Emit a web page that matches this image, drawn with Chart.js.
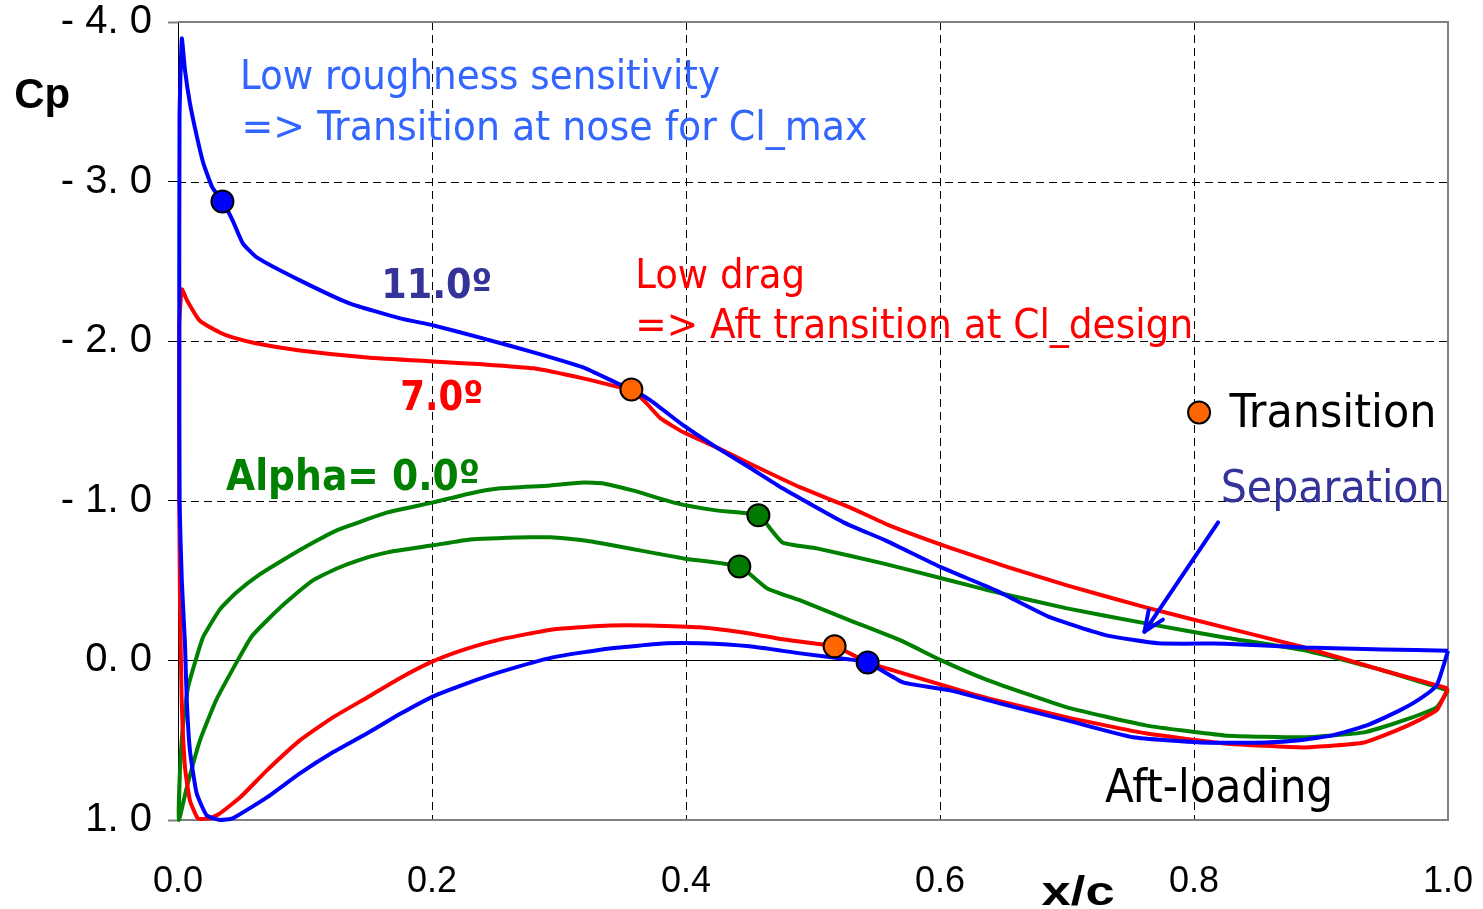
<!DOCTYPE html>
<html>
<head>
<meta charset="utf-8">
<title>Cp distribution</title>
<script src="https://cdn.jsdelivr.net/npm/chart.js@4.4.0/dist/chart.umd.min.js"></script>
<style>
  html, body { margin: 0; padding: 0; background: #fff; }
  #wrap { width: 1483px; height: 909px; position: relative; }
</style>
</head>
<body>
<div id="wrap"><canvas id="cpChart"></canvas></div>
<script>
// Cp along the chord, each curve walked as one loop: upper surface TE -> LE, then lower surface LE -> TE

// alpha = 11.0
const x11 = [1.0, 0.949, 0.887, 0.824, 0.772, 0.731, 0.687, 0.644, 0.601, 0.557, 0.524, 0.476, 0.450, 0.424, 0.398, 0.372, 0.357, 0.346, 0.319, 0.280, 0.240, 0.201, 0.175, 0.135, 0.096, 0.062, 0.051, 0.043, 0.035, 0.027, 0.020, 0.015, 0.0094, 0.0055, 0.003,
  0.0012, 0.001, 0.0012, 0.003, 0.0055, 0.0069, 0.0094, 0.0147, 0.0226, 0.033, 0.043, 0.070, 0.096, 0.122, 0.149, 0.175, 0.201, 0.227, 0.254, 0.295, 0.340, 0.385, 0.411, 0.450, 0.490, 0.529, 0.543, 0.571, 0.608, 0.647, 0.700, 0.752, 0.805, 0.857, 0.883, 0.909, 0.936, 0.962, 0.976, 0.991, 1.0];
const cp11 = [-0.06, -0.069, -0.081, -0.105, -0.107, -0.157, -0.269, -0.439, -0.583, -0.752, -0.865, -1.078, -1.209, -1.335, -1.472, -1.629, -1.698, -1.736, -1.836, -1.930, -2.018, -2.099, -2.143, -2.237, -2.381, -2.525, -2.613, -2.757, -2.876, -2.964, -3.114, -3.277, -3.490, -3.697, -3.897,
  -3.4, -2.0, -1.0, -0.5, -0.1, 0.25, 0.564, 0.833, 0.971, 1.0, 0.99, 0.858, 0.708, 0.576, 0.457, 0.335, 0.225, 0.145, 0.072, -0.019, -0.075, -0.107, -0.107, -0.088, -0.044, -0.006, 0.0125, 0.138, 0.188, 0.269, 0.376, 0.482, 0.514, 0.514, 0.501, 0.470, 0.407, 0.313, 0.251, 0.157, -0.06];

// alpha = 7.0
const x7 = [1.0, 0.949, 0.887, 0.824, 0.762, 0.700, 0.654, 0.607, 0.560, 0.529, 0.490, 0.450, 0.424, 0.398, 0.380, 0.369, 0.357, 0.348, 0.319, 0.280, 0.240, 0.201, 0.149, 0.096, 0.062, 0.043, 0.033, 0.017, 0.0071, 0.003,
  0.001, 0.001, 0.0016, 0.0029, 0.0055, 0.0094, 0.0157, 0.025, 0.033, 0.049, 0.070, 0.096, 0.122, 0.149, 0.175, 0.201, 0.227, 0.254, 0.295, 0.340, 0.370, 0.411, 0.450, 0.476, 0.517, 0.529, 0.545, 0.571, 0.608, 0.638, 0.700, 0.762, 0.824, 0.887, 0.934, 0.965, 0.991, 1.0];
const cp7 = [0.175, 0.063, -0.081, -0.207, -0.332, -0.470, -0.583, -0.708, -0.846, -0.959, -1.084, -1.234, -1.335, -1.429, -1.516, -1.610, -1.698, -1.711, -1.767, -1.830, -1.855, -1.873, -1.898, -1.942, -1.986, -2.024, -2.055, -2.130, -2.256, -2.325,
  -2.1, -1.0, -0.376, 0.25, 0.670, 0.877, 0.990, 0.99, 0.959, 0.858, 0.689, 0.501, 0.357, 0.232, 0.110, 0.005, -0.072, -0.132, -0.194, -0.219, -0.219, -0.207, -0.169, -0.132, -0.088, -0.044, 0.019, 0.081, 0.169, 0.238, 0.357, 0.457, 0.520, 0.545, 0.514, 0.420, 0.313, 0.175];

// alpha = 0.0
const x0 = [1.0, 0.949, 0.887, 0.824, 0.762, 0.700, 0.638, 0.608, 0.555, 0.503, 0.476, 0.457, 0.424, 0.393, 0.358, 0.335, 0.319, 0.293, 0.254, 0.230, 0.201, 0.165, 0.125, 0.104, 0.086, 0.0646, 0.046, 0.033, 0.020, 0.015, 0.0079, 0.004, 0.0015, 0.0008,
  0.0069, 0.0173, 0.030, 0.047, 0.058, 0.070, 0.086, 0.106, 0.125, 0.145, 0.165, 0.201, 0.230, 0.277, 0.293, 0.324, 0.372, 0.398, 0.442, 0.464, 0.490, 0.529, 0.569, 0.601, 0.638, 0.700, 0.762, 0.824, 0.887, 0.934, 0.965, 0.991, 1.0];
const cp0 = [0.188, 0.063, -0.063, -0.144, -0.232, -0.326, -0.439, -0.501, -0.608, -0.702, -0.739, -0.909, -0.940, -0.984, -1.065, -1.109, -1.115, -1.096, -1.078, -1.046, -0.990, -0.927, -0.815, -0.728, -0.645, -0.54, -0.425, -0.32, -0.15, -0.03, 0.169, 0.4, 0.7, 1.0,
  0.796, 0.501, 0.25, 0.0, -0.15, -0.25, -0.37, -0.50, -0.576, -0.635, -0.677, -0.721, -0.758, -0.771, -0.771, -0.746, -0.677, -0.639, -0.589, -0.451, -0.376, -0.251, -0.125, 0.0, 0.125, 0.294, 0.407, 0.470, 0.482, 0.451, 0.376, 0.294, 0.188];

// transition points (last one is the key symbol)
const transX = [0.357, 0.517, 0.804];
const transCp = [-1.698, -0.088, -1.553];
const blueDotX = [0.035, 0.543];
const blueDotCp = [-2.876, 0.0125];
const greenDotX = [0.457, 0.442];
const greenDotCp = [-0.909, -0.589];

const xTicks = [0, 0.2, 0.4, 0.6, 0.8, 1.0];
const cpTicks = [-4, -3, -2, -1, 0, 1];

const pts = (xs, ys) => xs.map((x, i) => ({ x: x, y: ys[i] }));

const condensed = '"DejaVu Sans Condensed", "DejaVu Sans", sans-serif';
const notes = [
  { text: 'Low roughness sensitivity', x: 0.0488, cp: -3.578, w: 480, font: '40px ' + condensed, color: '#3366ff' },
  { text: '=> Transition at nose for Cl_max', x: 0.050, cp: -3.258, w: 626, font: '40px ' + condensed, color: '#3366ff' },
  { text: '11.0º', x: 0.160, cp: -2.268, w: 111, font: 'bold 40px ' + condensed, color: '#333399' },
  { text: 'Low drag', x: 0.360, cp: -2.331, w: 170, font: '40px ' + condensed, color: '#ff0000' },
  { text: '=> Aft transition at Cl_design', x: 0.360, cp: -2.018, w: 558, font: '40px ' + condensed, color: '#ff0000' },
  { text: '7.0º', x: 0.175, cp: -1.566, w: 83, font: 'bold 40px ' + condensed, color: '#ff0000' },
  { text: 'Alpha= 0.0º', x: 0.0378, cp: -1.065, w: 254, font: 'bold 42px ' + condensed, color: '#008000' },
  { text: 'Transition', x: 0.828, cp: -1.460, w: 207, font: '46px ' + condensed, color: '#000000' },
  { text: 'Separation', x: 0.821, cp: -0.990, w: 224, font: '44px ' + condensed, color: '#333399' },
  { text: 'Aft-loading', x: 0.730, cp: 0.890, w: 228, font: '46px ' + condensed, color: '#000000' },
  { text: 'Cp', x: -0.129, cp: -3.459, w: 56, font: 'bold 42px "Liberation Sans", Arial, sans-serif', color: '#000000' },
  { text: 'x/c', x: 0.680, cp: 1.535, w: 73, font: 'bold 40px "Liberation Sans", Arial, sans-serif', color: '#000000' }
];

// separation arrow, tail -> head, in chart units
const sepArrow = { from: [0.819, -0.865], to: [0.761, -0.18] };

function seg(ctx, x1, y1, x2, y2) {
  ctx.beginPath();
  ctx.moveTo(x1, y1);
  ctx.lineTo(x2, y2);
  ctx.stroke();
}

// dashed grid, zero line and grey frame under the curves
const framePlugin = {
  id: 'frame',
  beforeDatasetsDraw(chart) {
    const { ctx, chartArea: a, scales } = chart;
    const sx = scales.x, sy = scales.y;
    ctx.save();
    ctx.strokeStyle = '#000';
    ctx.lineWidth = 1;
    ctx.setLineDash([8, 5]);
    xTicks.slice(1, -1).forEach(v => {
      const px = Math.round(sx.getPixelForValue(v)) + 0.5;
      seg(ctx, px, a.top, px, a.bottom);
    });
    cpTicks.filter(v => v !== 0 && v !== -4 && v !== 1).forEach(v => {
      const py = Math.round(sy.getPixelForValue(v)) + 0.5;
      seg(ctx, a.left, py, a.right, py);
    });
    ctx.setLineDash([]);
    const zy = Math.round(sy.getPixelForValue(0)) + 0.5;
    seg(ctx, a.left, zy, a.right, zy);
    ctx.strokeStyle = '#808080';
    ctx.lineWidth = 2;
    ctx.beginPath();
    ctx.moveTo(a.left, a.top);
    ctx.lineTo(a.right, a.top);
    ctx.lineTo(a.right, a.bottom);
    ctx.lineTo(a.left, a.bottom);
    ctx.stroke();
    ctx.restore();
  },
  afterDatasetsDraw(chart) {
    const { ctx, scales } = chart;
    const sx = scales.x, sy = scales.y;
    const x1 = sx.getPixelForValue(sepArrow.from[0]), y1 = sy.getPixelForValue(sepArrow.from[1]);
    const x2 = sx.getPixelForValue(sepArrow.to[0]), y2 = sy.getPixelForValue(sepArrow.to[1]);
    const ang = Math.atan2(y1 - y2, x1 - x2);
    ctx.save();
    ctx.strokeStyle = '#0000ff';
    ctx.lineWidth = 4;
    ctx.lineCap = 'round';
    seg(ctx, x1, y1, x2, y2);
    [-0.4, 0.4].forEach(d => {
      seg(ctx, x2, y2, x2 + 22 * Math.cos(ang + d), y2 + 22 * Math.sin(ang + d));
    });
    ctx.restore();
  },
  afterDraw(chart) {
    const { ctx, scales } = chart;
    ctx.save();
    ctx.textBaseline = 'alphabetic';
    ctx.textAlign = 'left';
    notes.forEach(n => {
      const px = scales.x.getPixelForValue(n.x);
      const py = scales.y.getPixelForValue(n.cp);
      ctx.font = n.font;
      const k = n.w / ctx.measureText(n.text).width;
      ctx.save();
      ctx.translate(px, py);
      ctx.scale(k, 1);
      ctx.fillStyle = n.color;
      ctx.fillText(n.text, 0, 0);
      ctx.restore();
    });
    ctx.restore();
  }
};

function curve(label, xs, ys, color, order) {
  return {
    label: label,
    data: pts(xs, ys),
    showLine: true,
    borderColor: color,
    backgroundColor: color,
    borderWidth: 4,
    borderJoinStyle: 'round',
    pointRadius: 0,
    tension: 0.15,
    clip: 4,
    order: order
  };
}

function dots(label, xs, ys, color) {
  return {
    label: label,
    data: pts(xs, ys),
    showLine: false,
    pointRadius: 11,
    pointBorderWidth: 2,
    pointBackgroundColor: color,
    pointBorderColor: '#000',
    clip: false,
    order: 0
  };
}

new Chart(document.getElementById('cpChart'), {
  type: 'scatter',
  data: {
    datasets: [
      curve('11.0', x11, cp11, '#0000ff', 1),
      curve('7.0', x7, cp7, '#ff0000', 2),
      curve('0.0', x0, cp0, '#008000', 3),
      dots('Transition', transX, transCp, '#ff6600'),
      dots('Transition 11.0', blueDotX, blueDotCp, '#0000ff'),
      dots('Transition 0.0', greenDotX, greenDotCp, '#007a00')
    ]
  },
  options: {
    responsive: true,
    maintainAspectRatio: false,
    animation: false,
    events: [],
    layout: { padding: { top: 22, right: 35, left: 0, bottom: 0 } },
    plugins: { legend: { display: false }, tooltip: { enabled: false } },
    scales: {
      x: {
        type: 'linear',
        min: 0,
        max: 1,
        // fixed axis band; end labels may hang into the page margin
        afterFit: s => { s.height = 89; s.paddingLeft = 0; s.paddingRight = 0; },
        afterBuildTicks: s => { s.ticks = xTicks.map(v => ({ value: v })); },
        grid: { display: false, drawTicks: false },
        border: { display: false },
        ticks: {
          padding: 40,
          color: '#000',
          font: { family: '"Liberation Sans", Arial, sans-serif', size: 36 },
          callback: v => v.toFixed(1)
        }
      },
      y: {
        type: 'linear',
        min: -4,
        max: 1,
        reverse: true,
        afterFit: s => { s.width = 178; s.paddingTop = 0; s.paddingBottom = 0; },
        afterBuildTicks: s => { s.ticks = cpTicks.map(v => ({ value: v })); },
        grid: {
          drawOnChartArea: false,
          drawTicks: true,
          tickLength: 10,
          tickWidth: c => (c.tick && (c.tick.value === -4 || c.tick.value === 1)) ? 2 : 1,
          tickColor: c => (c.tick && (c.tick.value === -4 || c.tick.value === 1)) ? '#808080' : '#000'
        },
        border: { display: true, color: '#000', width: 1 },
        ticks: {
          padding: 16,
          color: '#000',
          font: { family: '"Liberation Sans", Arial, sans-serif', size: 40 },
          callback: v => (v < 0 ? '- ' + Math.abs(v) : String(v)) + '. 0'
        }
      }
    }
  },
  plugins: [framePlugin]
});
</script>
</body>
</html>
